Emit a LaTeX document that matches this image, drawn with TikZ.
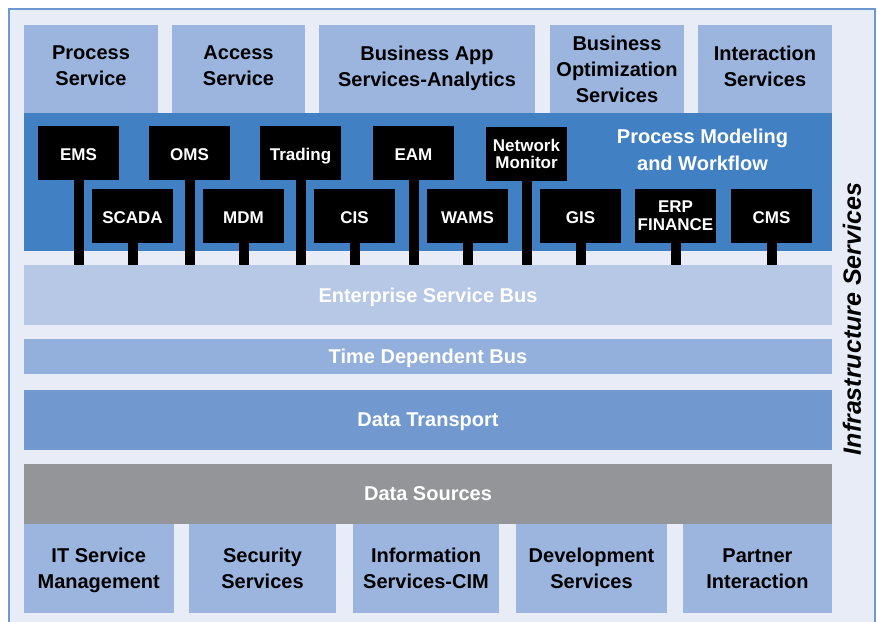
\documentclass[tikz,border=0pt]{standalone}
\usepackage{fontspec}
\setmainfont{Liberation Sans}
\usepackage{tikz}
\usetikzlibrary{positioning}
\definecolor{bgpale}{RGB}{232, 236, 247}
\definecolor{frameblue}{RGB}{108, 154, 208}
\definecolor{tierblue}{RGB}{155, 181, 223}
\definecolor{procblue}{RGB}{66, 128, 196}
\definecolor{esbblue}{RGB}{182, 200, 230}
\definecolor{tdbblue}{RGB}{147, 176, 220}
\definecolor{dtblue}{RGB}{113, 153, 208}
\definecolor{dsgray}{RGB}{147, 149, 152}
\tikzset{
  tier/.style={fill=tierblue, inner sep=0pt, align=center, minimum height=88pt,
    font=\fontsize{20}{26}\selectfont\bfseries},
  band/.style={inner sep=0pt, minimum width=808pt, text=white, text depth=0pt,
    font=\fontsize{20}{26}\selectfont\bfseries},
  app/.style={fill=black, text=white, inner sep=0pt, align=center,
    minimum width=81pt, minimum height=54pt, text depth=0pt,
    font=\fontsize{17}{17}\selectfont\bfseries},
  stem/.style={line width=10pt, black}
}

\begin{document}
\begin{tikzpicture}[x=1pt, y=-1pt]
  \useasboundingbox (0, 0) rectangle (877, 621);
  \fill[color=bgpale] (9, 9) rectangle (875, 630);
  \draw[color=frameblue, line width=1.2pt] (9, 630) -- (9, 9) -- (875, 9) -- (875, 630);

  % upper service tier
  \node[tier, minimum width=134pt, text depth=6pt] (procsvc) at (91, 69) {Process\\Service};
  \node[tier, minimum width=133pt, text depth=6pt] (accsvc) at (238.5, 69) {Access\\Service};
  \node[tier, minimum width=216pt, text depth=6pt] (bizapp) at (427, 69) {Business App\\Services-Analytics};
  \node[tier, minimum width=134pt] (bizopt) at (617, 69) {Business\\Optimization\\Services};
  \node[tier, minimum width=134pt, text depth=6pt] (intsvc) at (765, 69) {Interaction\\Services};

  % process modeling band
  \fill[color=procblue] (24, 113) rectangle (832, 250.5);
  \node[text=white, align=center, font=\fontsize{20}{27}\selectfont\bfseries] (pmw) at (702.5, 150) {Process Modeling\\and Workflow};

  % buses
  \node[band, fill=esbblue, minimum height=60pt] (esb) at (428, 295) {Enterprise Service Bus};
  \node[band, fill=tdbblue, minimum height=35pt] (tdb) at (428, 356.5) {Time Dependent Bus};
  \node[band, fill=dtblue, minimum height=60pt] (dt) at (428, 420) {Data Transport};
  \node[band, fill=dsgray, minimum height=60pt] (ds) at (428, 494) {Data Sources};

  % applications, upper row
  \node[app, text height=15pt] (ems) at (78.5, 153) {EMS};
  \node[app, text height=15pt] (oms) at (189.5, 153) {OMS};
  \node[app, text height=15pt] (trading) at (300.5, 153) {Trading};
  \node[app, text height=15pt] (eam) at (413.5, 153) {EAM};
  \node[app, font=\fontsize{17}{16.5}\selectfont\bfseries] (netmon) at (526.5, 154) {Network\\Monitor};

  % applications, lower row
  \node[app, text height=15pt] (scada) at (132.5, 216) {SCADA};
  \node[app, text height=15pt] (mdm) at (243.5, 216) {MDM};
  \node[app, text height=15pt] (cis) at (354.5, 216) {CIS};
  \node[app, text height=15pt] (wams) at (467.5, 216) {WAMS};
  \node[app, text height=15pt] (gis) at (580.5, 216) {GIS};
  \node[app, font=\fontsize{17}{18}\selectfont\bfseries] (erp) at (675.5, 216) {ERP\\FINANCE};
  \node[app, text height=15pt] (cms) at (771.5, 216) {CMS};

  % stems down to the bus
  \draw[stem] (ems.south) -- (ems.south |- esb.north);
  \draw[stem] (oms.south) -- (oms.south |- esb.north);
  \draw[stem] (trading.south) -- (trading.south |- esb.north);
  \draw[stem] (eam.south) -- (eam.south |- esb.north);
  \draw[stem] (netmon.south) -- (netmon.south |- esb.north);
  \draw[stem] (scada.south) -- (scada.south |- esb.north);
  \draw[stem] (mdm.south) -- (mdm.south |- esb.north);
  \draw[stem] (cis.south) -- (cis.south |- esb.north);
  \draw[stem] (wams.south) -- (wams.south |- esb.north);
  \draw[stem] (gis.south) -- (gis.south |- esb.north);
  \draw[stem] (erp.south) -- (erp.south |- esb.north);
  \draw[stem] (cms.south) -- (cms.south |- esb.north);

  % lower service tier
  \node[tier, minimum width=150.5pt, minimum height=89pt, text depth=0pt] (itsm) at (98.75, 568.5) {IT Service\\Management};
  \node[tier, minimum width=147pt, minimum height=89pt, text depth=0pt] (secsvc) at (262.5, 568.5) {Security\\Services};
  \node[tier, minimum width=146pt, minimum height=89pt, text depth=0pt] (infosvc) at (426, 568.5) {Information\\Services-CIM};
  \node[tier, minimum width=151pt, minimum height=89pt, text depth=0pt] (devsvc) at (591.5, 568.5) {Development\\Services};
  \node[tier, minimum width=149pt, minimum height=89pt, text depth=0pt] (partner) at (757.5, 568.5) {Partner\\Interaction};

  \node[rotate=90, font=\fontsize{25}{28}\selectfont\bfseries\itshape] (infra) at (852, 319) {Infrastructure Services};
\end{tikzpicture}
\end{document}
